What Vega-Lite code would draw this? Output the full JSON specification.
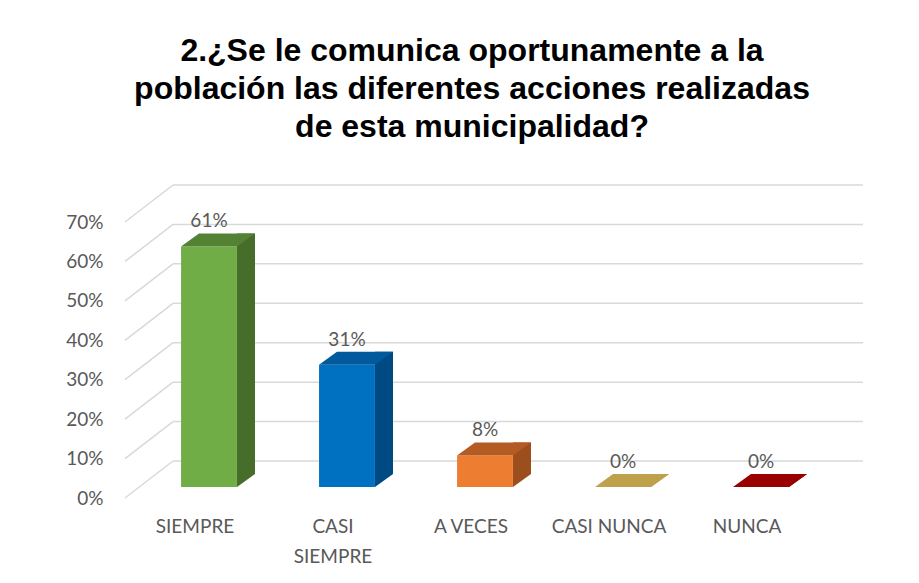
{
  "$schema": "https://vega.github.io/schema/vega-lite/v6.json",
  "autosize": "none",
  "width": 690,
  "height": 276,
  "padding": {"left": 140, "top": 211, "right": 89, "bottom": 96},
  "background": "white",
  "config": {"view": {"stroke": null}, "axisY": {"labelOverlap": false}},
  "title": {
    "text": ["2.¿Se le comunica oportunamente  a la", "población las diferentes acciones realizadas", "de esta municipalidad?"],
    "font": "Liberation Sans",
    "fontSize": 32,
    "fontWeight": "bold",
    "color": "#000000",
    "lineHeight": 38,
    "anchor": "middle",
    "frame": "group",
    "dx": -13,
    "offset": 40
  },
  "datasets": {
    "bars": [
      {"cat": "SIEMPRE", "pct": 0.61},
      {"cat": "CASI SIEMPRE", "pct": 0.31},
      {"cat": "A VECES", "pct": 0.08},
      {"cat": "CASI NUNCA", "pct": 0.0},
      {"cat": "NUNCA", "pct": 0.0}
    ],
    "grid": [
      {"v": 0.0}, {"v": 0.1}, {"v": 0.2}, {"v": 0.3}, {"v": 0.4}, {"v": 0.5}, {"v": 0.6}, {"v": 0.7}
    ]
  },
  "encoding": {
    "y": {
      "type": "quantitative",
      "scale": {"domain": [0, 0.7], "nice": false, "zero": true},
      "axis": {"format": ".0%", "values": [0, 0.1, 0.2, 0.3, 0.4, 0.5, 0.6, 0.7], "labelOverlap": false, "title": null, "domain": false, "ticks": false, "grid": false, "labelFont": "Lato", "labelFontSize": 19, "labelColor": "#595959", "labelPadding": 37, "labelOffset": 11}
    }
  },
  "layer": [
    {
      "data": {"name": "grid"},
      "mark": {"type": "rule", "stroke": "#d9d9d9", "strokeWidth": 1.5, "xOffset": -15, "x2Offset": 33, "yOffset": 11, "y2Offset": -26},
      "encoding": {
        "x": {"value": 0},
        "x2": {"value": 0},
        "y": {"field": "v", "type": "quantitative"},
        "y2": {"field": "v"}
      }
    },
    {
      "data": {"name": "grid"},
      "mark": {"type": "rule", "stroke": "#d9d9d9", "strokeWidth": 1.5, "xOffset": 33, "x2Offset": 33, "yOffset": -26, "y2Offset": -26},
      "encoding": {
        "x": {"value": 0},
        "x2": {"value": 690},
        "y": {"field": "v", "type": "quantitative"},
        "y2": {"field": "v"}
      }
    },
    {
      "data": {"name": "bars"},
      "layer": [
        {
          "mark": {"type": "bar", "width": 18, "xOffset": 37, "yOffset": -13, "y2Offset": -13},
          "encoding": {
            "y": {"field": "pct", "type": "quantitative"},
            "y2": {"datum": 0},
            "fill": {"condition": [
              {"test": "datum.cat === 'SIEMPRE'", "value": "#476d2b"},
              {"test": "datum.cat === 'CASI SIEMPRE'", "value": "#004a84"},
              {"test": "datum.cat === 'A VECES'", "value": "#9c4e1c"},
              {"test": "datum.cat === 'CASI NUNCA'", "value": "#a88a3c"}
            ], "value": "#7a0000"}
          }
        },
        {
          "mark": {"type": "point", "shape": "M28,0L28,-13L46,-13Z", "size": 4, "filled": true, "opacity": 1, "strokeWidth": 0},
          "encoding": {
            "y": {"datum": 0},
            "fill": {"condition": [
              {"test": "datum.cat === 'SIEMPRE'", "value": "#476d2b"},
              {"test": "datum.cat === 'CASI SIEMPRE'", "value": "#004a84"},
              {"test": "datum.cat === 'A VECES'", "value": "#9c4e1c"},
              {"test": "datum.cat === 'CASI NUNCA'", "value": "#a88a3c"}
            ], "value": "#7a0000"}
          }
        },
        {
          "mark": {"type": "bar"},
          "encoding": {
            "y": {"field": "pct", "type": "quantitative"},
            "fill": {"condition": [
              {"test": "datum.cat === 'SIEMPRE'", "value": "#70ad47"},
              {"test": "datum.cat === 'CASI SIEMPRE'", "value": "#0070c0"},
              {"test": "datum.cat === 'A VECES'", "value": "#ed7d31"},
              {"test": "datum.cat === 'CASI NUNCA'", "value": "#ffc000"}
            ], "value": "#c00000"}
          }
        },
        {
          "mark": {"type": "point", "shape": "M-28,0L28,0L46,-13L-10,-13Z", "size": 4, "filled": true, "opacity": 1, "strokeWidth": 0},
          "encoding": {
            "y": {"field": "pct", "type": "quantitative"},
            "fill": {"condition": [
              {"test": "datum.cat === 'SIEMPRE'", "value": "#548235"},
              {"test": "datum.cat === 'CASI SIEMPRE'", "value": "#005a9c"},
              {"test": "datum.cat === 'A VECES'", "value": "#b35b22"},
              {"test": "datum.cat === 'CASI NUNCA'", "value": "#bfa14c"}
            ], "value": "#990000"}
          }
        },
        {
          "mark": {"type": "text", "dy": -25, "baseline": "middle", "align": "center", "font": "Lato", "fontSize": 19, "fill": "#595959"},
          "encoding": {
            "y": {"field": "pct", "type": "quantitative"},
            "text": {"field": "pct", "type": "quantitative", "format": ".0%"}
          }
        }
      ],
      "encoding": {
        "x": {
          "field": "cat",
          "type": "nominal",
          "sort": null,
          "scale": {"paddingInner": 0.595, "paddingOuter": 0.2975},
          "axis": {
            "title": null,
            "domain": false,
            "ticks": false,
            "labelAngle": 0,
            "labelFont": "Lato",
            "labelFontSize": 19,
            "labelColor": "#595959",
            "labelPadding": 30,
            "labelOffset": -14,
            "labelLineHeight": 30,
            "labelExpr": "datum.label === 'CASI SIEMPRE' ? ['CASI', 'SIEMPRE'] : datum.label"
          }
        }
      }
    }
  ]
}
